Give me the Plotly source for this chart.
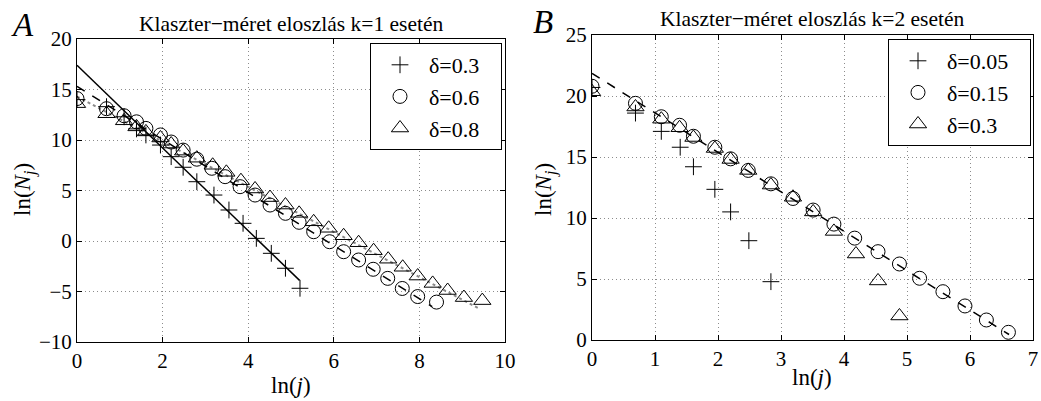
import plotly.graph_objects as go

W, H = 1041, 401
FONT = "Liberation Serif, Times New Roman, serif"

# ---------------- Panel A data (k=1) ----------------
a_plus_x = [0, 0.69, 1.10, 1.39, 1.61, 1.95, 2.20, 2.48, 2.80, 3.20, 3.55, 3.88, 4.19, 4.54, 4.87, 5.21]
a_plus_y = [14.0, 13.3, 12.3, 11.1, 10.5, 9.5, 8.35, 7.3, 5.87, 4.55, 3.07, 1.75, 0.26, -1.22, -2.7, -4.68]

a_circ_x = [0, 0.69, 1.10, 1.39, 1.61, 1.95, 2.20, 2.48, 2.80, 3.15, 3.46, 3.81, 4.16, 4.51, 4.87,
            5.19, 5.53, 5.90, 6.23, 6.58, 6.92, 7.26, 7.60, 7.96, 8.40]
a_circ_y = [14.1, 13.1, 12.4, 11.8, 11.15, 10.5, 9.8, 9.0, 8.1, 7.2, 6.37, 5.38, 4.55, 3.56, 2.74,
            1.85, 0.92, -0.07, -1.06, -1.88, -2.8, -3.7, -4.7, -5.5, -6.05]

a_tri_x = [0, 0.69, 1.10, 1.39, 1.61, 1.95, 2.20, 2.48, 2.80, 3.17, 3.49, 3.83, 4.16, 4.51, 4.87,
           5.19, 5.53, 5.88, 6.23, 6.58, 6.93, 7.27, 7.61, 7.96, 8.31, 8.66, 9.04, 9.47]
a_tri_y = [13.6, 12.6, 11.9, 11.3, 10.8, 10.2, 9.6, 8.9, 8.2, 7.5, 6.8, 5.97, 5.15, 4.3, 3.56,
           2.74, 1.9, 1.26, 0.52, -0.17, -0.96, -1.8, -2.6, -3.47, -4.2, -4.9, -5.6, -5.9]

a_fit03_x = [0, 5.2]
a_fit03_y = [17.4, -3.9]
a_fit06_x = [0, 8.3]
a_fit06_y = [15.3, -6.5]
a_fit08_x = [0, 9.4]
a_fit08_y = [14.3, -6.7]

a_labels = ["δ=0.3", "δ=0.6", "δ=0.8"]
a_xticks = [0, 2, 4, 6, 8, 10]
a_yticks = [-10, -5, 0, 5, 10, 15, 20]

# ---------------- Panel B data (k=2) ----------------
b_plus_x = [0, 0.69, 1.10, 1.40, 1.61, 1.95, 2.20, 2.49, 2.84]
b_plus_y = [20.7, 18.6, 17.1, 15.8, 14.2, 12.35, 10.5, 8.14, 4.78]

b_circ_x = [0, 0.69, 1.10, 1.39, 1.61, 1.95, 2.20, 2.48, 2.84, 3.19, 3.51, 3.84, 4.17, 4.54, 4.88,
            5.20, 5.57, 5.92, 6.26, 6.61]
b_circ_y = [20.8, 19.4, 18.3, 17.6, 16.7, 15.8, 14.85, 13.9, 12.8, 11.6, 10.65, 9.5, 8.35, 7.24, 6.23,
            5.06, 3.96, 2.79, 1.64, 0.63]

b_tri_x = [0, 0.69, 1.10, 1.39, 1.61, 1.95, 2.20, 2.48, 2.84, 3.19, 3.51, 3.84, 4.19, 4.54, 4.88]
b_tri_y = [20.35, 19.1, 18.1, 17.4, 16.6, 15.7, 14.8, 13.9, 12.7, 11.7, 10.5, 8.9, 7.05, 4.84, 1.97]

b_fit_x = [0, 6.62]
b_fit_y = [21.85, 0.45]

b_labels = ["δ=0.05", "δ=0.15", "δ=0.3"]
b_xticks = [0, 1, 2, 3, 4, 5, 6, 7]
b_yticks = [0, 5, 10, 15, 20, 25]

# ---------------- figure ----------------
fig = go.Figure()

def px_x(p):
    return p / W

def px_y(p):
    return 1 - p / H

def add_markers(x, y, symbol, size, name, xa, ya, leg):
    fig.add_trace(go.Scatter(
        x=x, y=y, mode="markers", name=name + "\u00a0\u00a0\u00a0", xaxis=xa, yaxis=ya, legend=leg,
        marker=dict(symbol=symbol, size=size, color="black",
                    line=dict(color="black", width=1)),
    ))

def add_line(x, y, dash, color, width, xa, ya):
    fig.add_trace(go.Scatter(
        x=x, y=y, mode="lines", showlegend=False, xaxis=xa, yaxis=ya,
        line=dict(color=color, dash=dash, width=width), hoverinfo="skip",
    ))

# Panel A
add_line(a_fit08_x, a_fit08_y, "dot", "#8a8a8a", 2, "x", "y")
add_markers(a_plus_x, a_plus_y, "cross-thin-open", 12, a_labels[0], "x", "y", "legend")
add_markers(a_circ_x, a_circ_y, "circle-open", 14, a_labels[1], "x", "y", "legend")
add_markers(a_tri_x, a_tri_y, "triangle-up-open", 15, a_labels[2], "x", "y", "legend")
add_line(a_fit03_x, a_fit03_y, "solid", "black", 1.5, "x", "y")
add_line(a_fit06_x, a_fit06_y, "dash", "black", 1.5, "x", "y")

# Panel B
add_markers(b_plus_x, b_plus_y, "cross-thin-open", 12, b_labels[0], "x2", "y2", "legend2")
add_markers(b_circ_x, b_circ_y, "circle-open", 14, b_labels[1], "x2", "y2", "legend2")
add_markers(b_tri_x, b_tri_y, "triangle-up-open", 15, b_labels[2], "x2", "y2", "legend2")
add_line(b_fit_x, b_fit_y, "dash", "black", 1.5, "x2", "y2")

axis_common = dict(
    showline=True, linecolor="black", linewidth=1, mirror="ticks",
    ticks="inside", ticklen=5, tickcolor="black", tickwidth=1,
    showgrid=True, gridcolor="#8c8c8c", griddash="1px,3px", gridwidth=1,
    zeroline=False, automargin=False,
    tickfont=dict(family=FONT, size=21, color="black"),
)

leg_common = dict(xanchor="left", yanchor="top", bordercolor="black", borderwidth=1,
                  bgcolor="white", itemwidth=48,
                  font=dict(family=FONT, size=22, color="black"))

fig.update_layout(
    width=W, height=H,
    margin=dict(l=0, r=0, t=0, b=0, autoexpand=False),
    paper_bgcolor="white", plot_bgcolor="white",
    font=dict(family=FONT, color="black"),
    xaxis=dict(domain=[px_x(77), px_x(505)], range=[0, 10], tickvals=a_xticks,
               anchor="y", **axis_common),
    yaxis=dict(domain=[px_y(342), px_y(39)], range=[-10, 20], tickvals=a_yticks,
               anchor="x", **axis_common),
    xaxis2=dict(domain=[px_x(592), px_x(1033)], range=[0, 7], tickvals=b_xticks,
                anchor="y2", **axis_common),
    yaxis2=dict(domain=[px_y(340), px_y(35)], range=[0, 25], tickvals=b_yticks,
                anchor="x2", **axis_common),
    legend=dict(x=px_x(370), y=px_y(43), **leg_common),
    legend2=dict(x=px_x(888), y=px_y(39), **leg_common),
)

def ann(text, x, y, size, angle=0):
    fig.add_annotation(text=text, x=px_x(x), y=px_y(y), xref="paper", yref="paper",
                       xanchor="center", yanchor="middle", showarrow=False,
                       textangle=angle, font=dict(family=FONT, size=size, color="black"))

ann("<i>A</i>", 22, 25, 33)
ann("<i>B</i>", 543, 22, 33)
ann("Klaszter−méret eloszlás k=1 esetén", 291, 24, 21.5)
ann("Klaszter−méret eloszlás k=2 esetén", 812, 19, 21.5)
ann("ln(<i>j</i>)", 291, 385, 23)
ann("ln(<i>j</i>)", 812, 377, 23)
ann("ln(<i>N<sub>j</sub></i>)", 24, 190, 23, -90)
ann("ln(<i>N<sub>j</sub></i>)", 545, 190, 23, -90)

fig.write_html("out.html")
